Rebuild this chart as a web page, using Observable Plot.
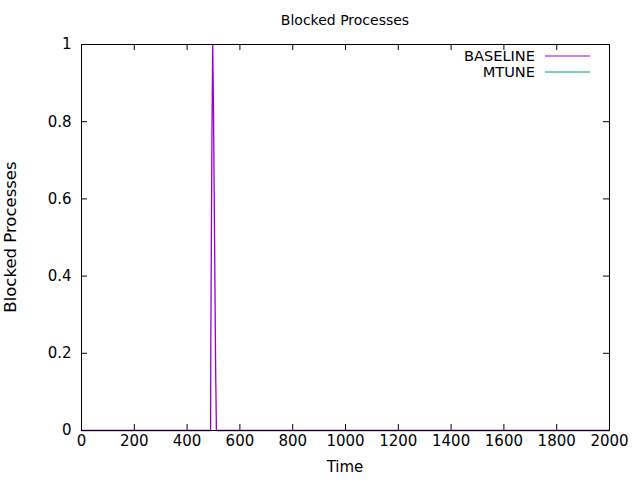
<!DOCTYPE html>
<html><head><meta charset="utf-8">
<script src="https://cdn.jsdelivr.net/npm/d3@7"></script>
<script src="https://cdn.jsdelivr.net/npm/@observablehq/plot@0.6"></script>
<style>body{margin:0;background:#fff}svg{display:block}</style>
</head><body><div id="c"></div>
<script>
const baselineTime = [0, 489, 490, 494, 497, 500, 504, 508, 511, 2000];
const baselineBlocked = [0, 0, 0.25, 0.75, 1, 0.833, 0.5, 0.167, 0, 0];
const mtuneTime = [0, 2000];
const mtuneBlocked = [0, 0];
const xTicks = [0, 200, 400, 600, 800, 1000, 1200, 1400, 1600, 1800, 2000];
const yTicks = [0, 0.2, 0.4, 0.6, 0.8, 1];
const yTickLabels = ["0", "0.2", "0.4", "0.6", "0.8", "1"];
const seriesNames = ["BASELINE", "MTUNE"];
const seriesColors = ["#9400d3", "#009e73"];

const base = baselineTime.map((t, i) => ({t, v: baselineBlocked[i]}));
const mtune = mtuneTime.map((t, i) => ({t, v: mtuneBlocked[i]}));

const W = 640, H = 480, mL = 81, mR = 31, mT = 44, mB = 50;
const tx = 6 * 2000 / (W - mL - mR), ty = 6 * 1 / (H - mT - mB);
const font = "DejaVu Sans, sans-serif";

const plot = Plot.plot({
  width: W, height: H,
  marginLeft: mL, marginRight: mR, marginTop: mT, marginBottom: mB,
  style: {fontFamily: font, fontSize: "15px", background: "#fff", color: "#000"},
  x: {domain: [0, 2000], ticks: xTicks},
  y: {domain: [0, 1], ticks: yTicks},
  marks: [
    Plot.line(mtune, {x: "t", y: "v", stroke: seriesColors[1], strokeWidth: 1}),
    Plot.line(base, {x: "t", y: "v", stroke: seriesColors[0], strokeWidth: 1.3}),
    Plot.ruleX(xTicks, {x: d => d, y1: 0, y2: ty, stroke: "#000"}),
    Plot.ruleX(xTicks, {x: d => d, y1: 1 - ty, y2: 1, stroke: "#000"}),
    Plot.ruleY(yTicks, {y: d => d, x1: 0, x2: tx, stroke: "#000"}),
    Plot.ruleY(yTicks, {y: d => d, x1: 2000 - tx, x2: 2000, stroke: "#000"}),
    Plot.frame({stroke: "#000", strokeWidth: 1}),
    Plot.axisX({ticks: xTicks, tickSize: 0, tickPadding: 5, fontSize: 15, label: null, tickFormat: d => String(d)}),
    Plot.axisY({ticks: yTicks, tickSize: 0, tickPadding: 10, fontSize: 15, label: null, tickFormat: (d, i) => yTickLabels[i]})
  ]
});
document.getElementById("c").appendChild(plot);
const svg = d3.select(plot);
svg.append("text").attr("x", 345).attr("y", 25).attr("text-anchor", "middle")
  .attr("font-family", font).attr("font-size", 14).text("Blocked Processes");
svg.append("text").attr("x", 345).attr("y", 472).attr("text-anchor", "middle")
  .attr("font-family", font).attr("font-size", 15).text("Time");
svg.append("text").attr("transform", "translate(16,237) rotate(-90)").attr("text-anchor", "middle")
  .attr("font-family", font).attr("font-size", 16.5).text("Blocked Processes");
seriesNames.forEach((n, i) => {
  const y = 56 + i * 16;
  svg.append("text").attr("x", 535).attr("y", y + 5).attr("text-anchor", "end")
    .attr("font-family", font).attr("font-size", 14.6).text(n);
  svg.append("line").attr("x1", 545).attr("x2", 590).attr("y1", y).attr("y2", y)
    .attr("stroke", seriesColors[i]).attr("stroke-width", 1);
});
</script></body></html>
